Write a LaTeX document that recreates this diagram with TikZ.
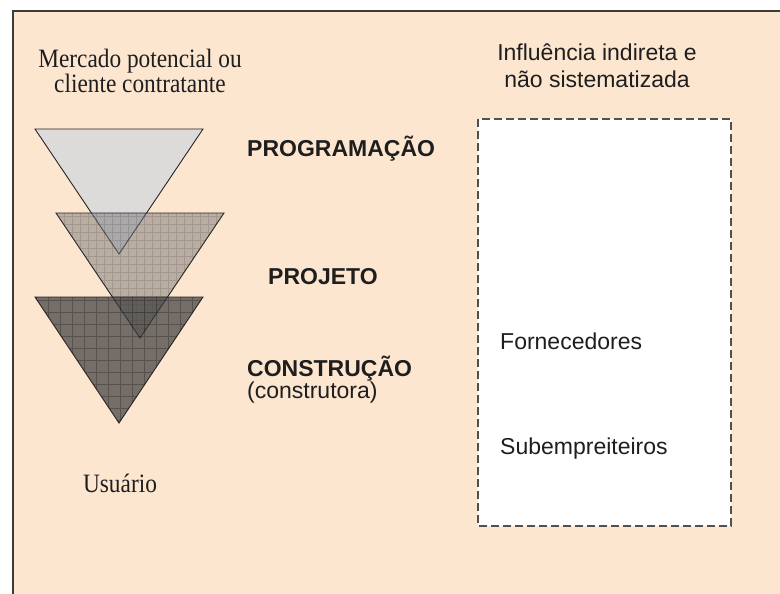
\documentclass[tikz,border=0pt]{standalone}
\usepackage{fontspec}
\setmainfont{Liberation Serif}
\newfontfamily\serifc[FakeStretch=0.88]{Liberation Serif}
\newfontfamily\sansf{Liberation Sans}
\definecolor{peach}{RGB}{253,230,208}
\definecolor{frame}{RGB}{60,60,60}
\definecolor{ink}{RGB}{30,30,30}
\definecolor{tone}{RGB}{200,210,225}
\definecolor{tmid}{RGB}{120,120,120}
\definecolor{tdark}{RGB}{60,60,60}
\definecolor{dashc}{RGB}{80,80,80}
\tikzset{
  serlabel/.style={inner sep=0pt, anchor=base, text=ink, font=\serifc\fontsize{26.5}{30}\selectfont},
  sanslabel/.style={inner sep=0pt, text=ink, font=\sansf\fontsize{23}{27}\selectfont},
  boldlabel/.style={inner sep=0pt, anchor=base west, text=ink, font=\sansf\bfseries\fontsize{23}{27}\selectfont},
  tri/.style={draw=black!85, line width=0.9pt, line join=miter},
}
\begin{document}
\begin{tikzpicture}[x=1pt,y=-1pt]
\useasboundingbox (0,0) rectangle (780,594);
\fill[white] (0,0) rectangle (780,594);
% panel
\fill[peach] (13,11) rectangle (780,594);
\draw[frame, line width=2pt] (13,594) -- (13,11) -- (780,11);

% triangles
\path[tri, fill=tone, fill opacity=0.6] (35,129) -- (203,129) -- (119,254) -- cycle;
\path[tri, fill=tmid, fill opacity=0.5] (56,213) -- (224,213) -- (140,338) -- cycle;
\begin{scope}
  \clip (56,213) -- (224,213) -- (140,338) -- cycle;
  \draw[black, opacity=0.12, line width=0.5pt, step=8pt] (50,205) grid (230,345);
\end{scope}
\path[tri, fill=tdark, fill opacity=0.7] (35,297) -- (203,297) -- (119,423) -- cycle;
\begin{scope}
  \clip (35,297) -- (203,297) -- (119,423) -- cycle;
  \draw[black, opacity=0.25, line width=0.6pt, step=12pt] (30,290) grid (210,430);
\end{scope}

% dashed box
\draw[dashc, fill=white, line width=1.4pt, dash pattern=on 8pt off 4pt] (478,119) rectangle (731,526);

% texts
\node[serlabel] (merc1) at (140,68) {Mercado potencial ou};
\node[serlabel] (merc2) at (140,93) {cliente contratante};
\node[serlabel] (usu) at (120,492) {Usuário};

\node[sanslabel, anchor=base] (inf1) at (597,61) {Influência indireta e};
\node[sanslabel, anchor=base] (inf2) at (597,88) {não sistematizada};

\node[boldlabel] (prog) at (247,157) {PROGRAMAÇÃO};
\node[boldlabel] (proj) at (268,284) {PROJETO};
\node[boldlabel] (cons) at (247,376) {CONSTRUÇÃO};
\node[sanslabel, anchor=base west] (ctora) at (247,398) {(construtora)};

\node[sanslabel, anchor=base west] (forn) at (500,349) {Fornecedores};
\node[sanslabel, anchor=base west] (sub) at (500,454) {Subempreiteiros};
\end{tikzpicture}
\end{document}
